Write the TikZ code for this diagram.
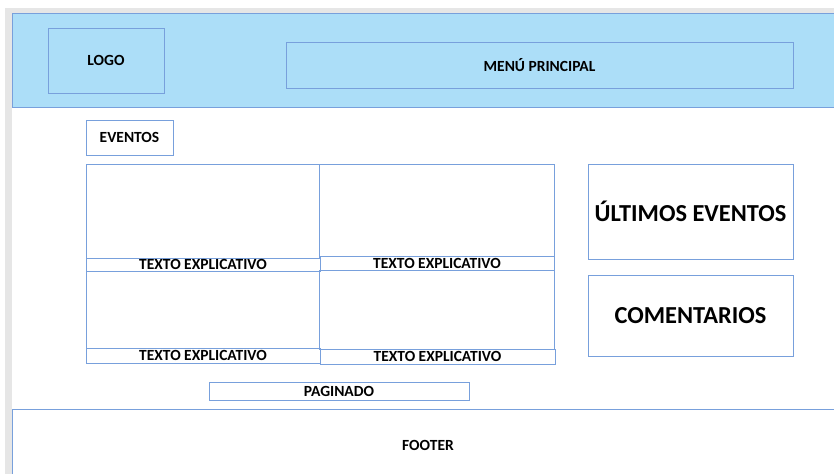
\documentclass[tikz,border=0pt]{standalone}
\usepackage{fontspec}
\setmainfont{Carlito}
\definecolor{hdrfill}{RGB}{172,222,248}
\definecolor{boxline}{RGB}{120,160,220}
\definecolor{strip}{RGB}{230,230,230}
\tikzset{
  box/.style={draw=boxline, line width=0.8pt, inner sep=0pt, outer sep=0pt, anchor=north west,
    font=\fontsize{15.5}{17}\selectfont\bfseries, text=black},
  bigbox/.style={box, font=\fontsize{24.4}{28}\selectfont\bfseries},
}
\begin{document}
\begin{tikzpicture}[x=1pt,y=-1pt]
\useasboundingbox (0,0) rectangle (834,474);
% gray strips
\fill[strip] (5,8) rectangle (834,13);
\fill[strip] (5,8) rectangle (12,474);
% header
\node[box, fill=hdrfill, minimum width=822pt, minimum height=94pt] (header) at (12,13) {};
\node[box, fill=hdrfill, minimum width=116pt, minimum height=65pt] (logo) at (48,28) {LOGO};
\node[box, fill=hdrfill, minimum width=507pt, minimum height=46pt] (menu) at (286,42) {MENÚ PRINCIPAL};
% eventos
\node[box, minimum width=87pt, minimum height=35pt] (eventos) at (86,120) {EVENTOS};
% grid
\node[box, minimum width=233pt, minimum height=94pt] (cell1) at (86,164) {};
\node[box, minimum width=235pt, minimum height=92pt] (cell2) at (319,164) {};
\node[box, minimum width=234pt, minimum height=13pt] (cap1) at (86,258) {TEXTO EXPLICATIVO};
\node[box, minimum width=234pt, minimum height=14pt] (cap2) at (320,256) {TEXTO EXPLICATIVO};
\node[box, minimum width=233pt, minimum height=77pt] (cell3) at (86,271) {};
\node[box, minimum width=235pt, minimum height=79pt] (cell4) at (319,270) {};
\node[box, minimum width=234pt, minimum height=15pt] (cap3) at (86,348) {TEXTO EXPLICATIVO};
\node[box, minimum width=235pt, minimum height=15pt] (cap4) at (320,349) {TEXTO EXPLICATIVO};
% paginado
\node[box, minimum width=260pt, minimum height=18pt] (pag) at (209,382) {PAGINADO};
% side boxes
\node[bigbox, minimum width=205pt, minimum height=95pt] (ultimos) at (588,164) {ÚLTIMOS EVENTOS};
\node[bigbox, minimum width=205pt, minimum height=81pt] (coment) at (588,275) {COMENTARIOS};
% footer
\coordinate (fbl) at (12,474);
\coordinate (ftl) at (12,409);
\coordinate (ftr) at (834,409);
\draw[boxline, line width=0.8pt] (fbl) -- (ftl) -- (ftr);
\node[font=\fontsize{15.5}{17}\selectfont\bfseries] (footer) at (428,445) {FOOTER};
\end{tikzpicture}
\end{document}
